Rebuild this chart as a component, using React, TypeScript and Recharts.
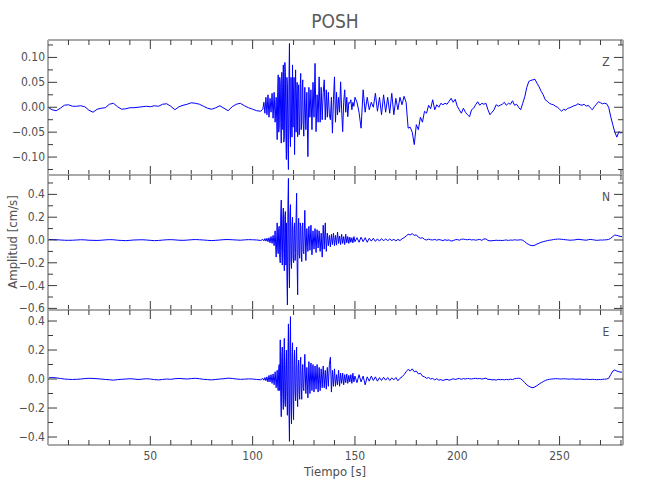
import { LineChart, Line, XAxis, YAxis } from 'recharts';

// sample times [s]
const TIME_PRE = [
  0, 2, 4, 6, 8, 10, 12, 14, 16, 18, 20, 22, 24, 26, 28, 30, 32, 34, 36, 38,
  40, 42, 44, 46, 48, 50, 52, 54, 56, 58, 60, 62, 64, 66, 68, 70, 72, 74, 76, 78,
  80, 82, 84, 86, 88, 90, 92, 94, 96, 98, 100, 102, 104,
];
const TIME_BURST = [
  105, 105.5, 106, 106.5, 107, 107.5, 108, 108.5, 109, 109.5,
  110, 110.5, 111, 111.5,
  112, 112.25, 112.5, 112.75, 113, 113.25, 113.5, 113.75,
  114, 114.25, 114.5, 114.75, 115, 115.25, 115.5, 115.75,
  116, 116.25, 116.5, 116.75, 117, 117.25, 117.5, 117.75,
  118, 118.25, 118.5, 118.75, 119, 119.25, 119.5, 119.75,
  120, 120.25, 120.5, 120.75, 121, 121.25, 121.5, 121.75,
  122, 122.25, 122.5, 122.75, 123, 123.25, 123.5, 123.75,
  124, 124.25, 124.5, 124.75,
  125, 125.5, 126, 126.5, 127, 127.5, 128, 128.5, 129, 129.5,
  130, 130.5, 131, 131.5, 132, 132.5, 133, 133.5, 134, 134.5,
  135, 135.5, 136, 136.5, 137, 137.5, 138, 138.5, 139, 139.5,
  140, 140.5, 141, 141.5, 142, 142.5, 143, 143.5, 144, 144.5,
  145, 145.5, 146, 146.5, 147, 147.5, 148, 148.5, 149, 149.5,
  150,
];
const TIME_POST = [
  151, 152, 153, 154, 155, 156, 157, 158, 159, 160,
  161, 162, 163, 164, 165, 166, 167, 168, 169, 170,
  171, 172, 173, 174, 175, 176, 177, 178, 179, 180,
  181, 182, 183, 184, 185, 186, 187, 188, 189, 190,
  191, 192, 193, 194, 195, 196, 197, 198, 199, 200,
  201, 202, 203, 204, 205, 206, 207, 208, 209, 210,
  211, 212, 213, 214, 215, 216, 217, 218, 219, 220,
  221, 222, 223, 224, 225, 226, 227, 228, 229, 230,
  231, 232, 233, 234, 235, 236, 237, 238, 239, 240,
  241, 242, 243, 244, 245, 246, 247, 248, 249, 250,
  251, 252, 253, 254, 255, 256, 257, 258, 259, 260,
  261, 262, 263, 264, 265, 266, 267, 268, 269, 270,
  271, 272, 273, 274, 275, 276, 277, 278, 279, 280,
  281,
];

// Z component [cm/s]
const Z_PRE = [
  0, -0.005, -0.007, -0.002, 0.004, 0.005, 0.002, 0.002, 0.003, 0.001,
  -0.006, -0.01, -0.004, -0.002, -0.001, 0.006, 0.008, 0.001, -0.004, -0.003,
  -0.001, -0.001, 0, 0.001, 0.002, 0.001, 0.003, 0.002, 0.006, 0.007,
  0.002, -0.005, 0.001, 0.004, 0.006, 0.009, 0.008, 0.006, 0.002, -0.002,
  -0.004, -0.001, 0.003, -0.002, -0.007, 0.001, 0.006, 0.008, 0.003, -0.001,
  -0.004, -0.007, -0.008,
];
const Z_BURST = [
  -0.004, 0.01, -0.012, 0.02, -0.015, 0.025, -0.02, 0.018, -0.01, 0.028,
  -0.022, 0.03, -0.03, 0.02,
  -0.065, 0.03, 0.065, -0.05, -0.04, 0.06, 0.05, -0.03,
  -0.072, 0.07, 0.04, -0.045, 0.085, -0.07, -0.06, 0.09,
  0.07, -0.05, -0.105, 0.06, 0.045, -0.08, -0.125, 0.05,
  0.128, -0.04, -0.079, 0.06, -0.03, -0.06, 0.085, -0.04,
  0.03, 0.06, -0.095, 0.02, 0.075, -0.05, 0.02, 0.05,
  -0.059, 0.03, 0.045, -0.055, -0.04, 0.04, 0.068, -0.045,
  -0.03, 0.04, 0.055, -0.035,
  -0.058, 0.04, -0.045, 0.03, -0.099, 0.04, -0.02, 0.035, -0.045, 0.05,
  -0.02, 0.088, -0.049, 0.025, -0.03, 0.061, -0.03, 0.04, -0.025, 0.03,
  0.055, -0.025, 0.035, -0.02, 0.03, -0.015, -0.025, 0.02, -0.052, 0.015,
  0.061, -0.03, 0.03, -0.015, 0.02, -0.01, 0.051, -0.005, -0.049, 0.01,
  0.035, -0.01, 0.02, -0.019, 0.01, 0.008, 0.015, -0.005, 0.01, 0.002,
  0.02,
];
const Z_POST = [
  0.01, -0.01, -0.042, 0.035, -0.01, 0.02, -0.005, 0.01, 0, 0.028,
  -0.008, 0.02, -0.015, 0.025, -0.01, 0.02, -0.012, 0.028, -0.015, 0.018,
  -0.005, 0.02, 0.005, 0.022, 0.01, -0.042, -0.04, -0.05, -0.075, -0.035,
  -0.045, -0.02, -0.03, -0.008, -0.012, 0.004, -0.003, 0.015, -0.005, 0.005,
  0, 0.008, 0.005, 0.008, 0.006, 0.012, 0.018, 0.01, 0.016, 0.002,
  -0.005, -0.012, -0.002, -0.01, -0.015, -0.019, -0.005, -0.002, 0.005, 0.011,
  0.004, 0.008, 0.006, 0.008, -0.005, -0.015, -0.01, -0.005, 0.005, 0.002,
  0.004, 0.006, 0.01, 0.004, 0.008, 0.006, 0.013, 0.004, 0.006, 0,
  -0.005, 0.008, 0.021, 0.04, 0.052, 0.054, 0.055, 0.056, 0.048, 0.041,
  0.032, 0.025, 0.015, 0.012, 0.008, 0.006, 0.005, 0.002, 0, -0.004,
  -0.008, -0.004, -0.006, -0.002, -0.001, 0.001, 0.003, 0.004, 0.007, 0.005,
  0.004, 0.006, 0.002, 0.004, -0.001, -0.005, 0.001, 0.006, 0.011, 0.009,
  0.007, 0.008, 0.007, 0, -0.019, -0.035, -0.05, -0.06, -0.049, -0.052,
  -0.049,
];

// N component [cm/s]
const N_PRE = [
  0.005, 0.004, 0.002, 0, -0.002, -0.003, -0.002, 0, 0.002, 0.001,
  -0.002, -0.003, -0.004, -0.002, 0.001, 0.003, 0.002, -0.002, -0.004, -0.006,
  -0.003, 0, 0.001, 0.002, 0, -0.003, -0.006, -0.004, -0.001, 0.002,
  0.003, 0.001, -0.002, -0.003, -0.001, 0.002, 0.004, 0.002, 0, -0.003,
  -0.005, -0.003, 0, 0.003, 0.004, 0.002, 0, -0.002, 0.001, 0.003,
  0.002, 0, -0.004,
];
const N_BURST = [
  0.005, -0.008, 0.012, -0.01, 0.015, -0.015, 0.02, -0.025, 0.03, -0.03,
  0.04, -0.05, 0.08, -0.15,
  0.15, -0.08, -0.12, 0.1, 0.12, -0.15, -0.2, 0.22,
  0.35, -0.1, -0.22, 0.18, 0.28, -0.12, -0.27, 0.2,
  0.25, -0.22, 0.15, -0.3, -0.57, 0.3, 0.54, -0.2,
  -0.42, 0.22, 0.31, -0.18, -0.25, 0.12, 0.2, -0.15,
  -0.2, 0.1, 0.15, -0.18, -0.12, 0.2, 0.41, -0.2,
  -0.48, 0.1, 0.19, -0.12, -0.16, 0.15, 0.12, -0.1,
  -0.19, 0.12, 0.15, -0.1,
  -0.12, 0.26, -0.18, 0.1, -0.1, 0.12, -0.09, 0.13, -0.13, 0.08,
  -0.08, 0.1, -0.11, 0.09, -0.07, 0.08, -0.1, 0.06, -0.15, 0.13,
  -0.08, 0.15, -0.1, 0.06, -0.05, 0.04, -0.06, 0.05, -0.04, 0.06,
  -0.05, 0.04, -0.045, 0.07, -0.03, 0.035, -0.04, 0.05, -0.03, 0.03,
  -0.04, 0.05, -0.025, 0.03, -0.03, 0.025, -0.02, 0.02, -0.025, 0.03,
  -0.015,
];
const N_POST = [
  0.02, -0.02, 0.025, -0.015, 0.02, -0.02, 0.015, -0.01, 0.015, -0.012,
  0.01, -0.01, 0.012, -0.008, 0.01, -0.006, 0.008, -0.005, 0.006, -0.008,
  0.005, -0.005, 0.01, 0.02, 0.035, 0.05, 0.045, 0.055, 0.04, 0.045,
  0.025, 0.015, 0.02, 0.005, 0, 0.008, 0.002, 0, 0.005, -0.002,
  0.004, 0, -0.005, 0.002, -0.003, 0.001, -0.01, -0.005, 0.002, 0.004,
  -0.002, 0.006, 0.008, 0.004, 0.002, 0.006, 0, 0.003, -0.002, 0.002,
  0.005, -0.003, 0.008, 0.01, -0.004, -0.008, -0.006, -0.005, -0.002, -0.004,
  -0.003, -0.005, -0.002, 0, -0.004, 0, -0.002, 0.002, -0.001, 0,
  0.002, -0.002, -0.015, -0.03, -0.04, -0.048, -0.05, -0.045, -0.035, -0.028,
  -0.02, -0.015, -0.01, -0.006, -0.002, 0, 0.004, 0.006, 0.008, 0.008,
  0.006, 0.004, 0.002, 0, -0.002, -0.001, 0, 0.003, 0.006, 0.004,
  0.002, 0, -0.002, 0.002, 0.005, 0.003, 0, -0.003, -0.002, 0,
  -0.001, 0.001, 0.002, 0.005, 0.015, 0.03, 0.044, 0.04, 0.035, 0.03,
  0.03,
];

// E component [cm/s]
const E_PRE = [
  0.008, 0.01, 0.008, 0.004, 0, -0.002, -0.003, -0.002, 0, 0.003,
  0.005, 0.004, 0.002, 0, -0.003, -0.005, -0.008, -0.004, -0.002, 0,
  0.002, 0, -0.003, -0.001, 0.002, 0, -0.004, -0.006, -0.003, 0,
  -0.002, 0.002, 0.004, 0.002, 0, 0.003, 0.005, 0.002, -0.002, -0.004,
  -0.006, -0.003, 0, 0.002, 0.006, 0.004, 0, -0.002, -0.001, 0.001,
  0, -0.003, -0.005,
];
const E_BURST = [
  0.004, -0.008, 0.01, -0.012, 0.015, -0.02, 0.025, -0.02, 0.03, -0.03,
  0.035, -0.04, 0.05, -0.06,
  0.06, -0.05, -0.08, 0.07, 0.1, -0.08, 0.27, -0.12,
  -0.26, 0.15, 0.22, -0.1, -0.21, 0.12, 0.28, -0.15,
  -0.19, 0.1, 0.2, -0.12, -0.25, 0.15, 0.38, -0.2,
  -0.43, 0.22, 0.43, -0.18, -0.31, 0.15, 0.25, -0.12,
  -0.28, 0.1, 0.2, -0.08, -0.15, 0.1, 0.22, -0.1,
  -0.19, 0.08, 0.13, -0.09, -0.14, 0.1, 0.15, -0.06,
  -0.14, 0.05, 0.1, -0.06,
  -0.08, 0.17, -0.1, 0.08, -0.13, 0.12, -0.1, 0.11, -0.08, 0.1,
  -0.09, 0.09, -0.07, 0.1, -0.09, 0.08, -0.08, 0.07, -0.06, 0.09,
  -0.06, 0.06, -0.07, 0.08, -0.05, 0.1, 0.15, -0.09, 0.06, -0.05,
  0.07, -0.05, 0.03, -0.04, 0.06, -0.05, 0.04, -0.03, 0.04, -0.04,
  0.03, -0.025, 0.035, -0.03, 0.025, -0.02, 0.03, -0.03, 0.04, -0.02,
  0.02,
];
const E_POST = [
  -0.025, 0.03, -0.02, 0.02, -0.04, 0.015, -0.015, 0.02, -0.01, 0.015,
  -0.015, 0.01, -0.01, 0.012, -0.008, 0.01, -0.01, 0.008, -0.006, 0.01,
  -0.012, 0.005, 0.015, 0.03, 0.05, 0.067, 0.055, 0.07, 0.05, 0.055,
  0.035, 0.04, 0.02, 0.015, 0.005, 0.01, 0, 0.004, -0.006, 0.002,
  -0.008, -0.004, -0.01, -0.005, -0.002, -0.008, -0.004, 0.002, -0.003, 0.001,
  0.004, -0.002, 0.003, 0, 0.004, 0.002, 0, 0.003, 0.005, 0.002,
  0.004, 0, 0.003, 0.006, -0.003, -0.002, -0.006, -0.004, -0.008, -0.002,
  -0.005, -0.003, -0.006, -0.002, -0.005, -0.001, -0.004, 0.002, 0.004, 0.006,
  0.002, -0.01, -0.025, -0.04, -0.05, -0.057, -0.06, -0.054, -0.045, -0.035,
  -0.026, -0.018, -0.01, -0.005, -0.002, 0, 0.001, 0.002, 0.002, 0.001,
  0, 0.002, 0.001, 0, -0.001, 0.001, 0, -0.002, -0.001, 0,
  -0.002, -0.003, -0.001, -0.002, -0.004, -0.002, -0.003, -0.005, -0.003, -0.004,
  -0.002, -0.001, 0, 0.005, 0.03, 0.055, 0.062, 0.055, 0.05, 0.048,
  0.045,
];

const X_TICKS = [10, 20, 30, 40, 50, 60, 70, 80, 90, 100, 110, 120, 130, 140, 150, 160, 170, 180, 190, 200, 210, 220, 230, 240, 250, 260, 270, 280];
const X_LABELS = [50, 100, 150, 200, 250];

const Z_TICKS = [-0.125, -0.1, -0.075, -0.05, -0.025, 0, 0.025, 0.05, 0.075, 0.1, 0.125];
const Z_LABELS = [-0.1, -0.05, 0, 0.05, 0.1];
const N_TICKS = [-0.6, -0.5, -0.4, -0.3, -0.2, -0.1, 0, 0.1, 0.2, 0.3, 0.4, 0.5];
const N_LABELS = [-0.6, -0.4, -0.2, 0, 0.2, 0.4];
const E_TICKS = [-0.4, -0.3, -0.2, -0.1, 0, 0.1, 0.2, 0.3, 0.4];
const E_LABELS = [-0.4, -0.2, 0, 0.2, 0.4];

const TIME = [...TIME_PRE, ...TIME_BURST, ...TIME_POST];
const Z = [...Z_PRE, ...Z_BURST, ...Z_POST];
const N = [...N_PRE, ...N_BURST, ...N_POST];
const E = [...E_PRE, ...E_BURST, ...E_POST];
const rows = TIME.map((t, i) => ({ t, z: Z[i], n: N[i], e: E[i] }));

const FONT = "'DejaVu Sans Condensed', 'DejaVu Sans', sans-serif";
const TEXT = '#505050';
const FRAME = '#a9a9a9';
const TICK = '#3a3a3a';
const BLUE = '#0000ff';

const LEFT = 48;
const RIGHT = 27;
const PANEL_H = 135;
const PAD = 10;
const AX = 1; // thickness reserved for each axis box

const has = (list: number[], v: number) => list.some(l => Math.abs(l - v) < 1e-9);
const fmt = (v: number, d: number) => {
  const s = Math.abs(v).toFixed(d);
  return v < -1e-9 ? '\u2212' + s : s;
};

function XTick(props: any) {
  const { x, y, payload, side, showLabel } = props;
  const major = has(X_LABELS, payload.value);
  const len = major ? 9 : 5;
  const dir = side === 'top' ? 1 : -1;
  return (
    <g>
      <line x1={x} y1={y} x2={x} y2={y + dir * len} stroke={TICK} strokeWidth={1} />
      {showLabel && major && (
        <text x={x} y={y + 15} textAnchor="middle" fontSize={12} fill={TEXT} fontFamily={FONT}>
          {payload.value}
        </text>
      )}
    </g>
  );
}

function YTick(props: any) {
  const { x, y, payload, side, labels, digits } = props;
  const major = has(labels, payload.value);
  const len = major ? 9 : 5;
  const dir = side === 'left' ? 1 : -1;
  return (
    <g>
      <line x1={x} y1={y} x2={x + dir * len} y2={y} stroke={TICK} strokeWidth={1} />
      {side === 'left' && major && (
        <text x={x - 3} y={y + 4} textAnchor="end" fontSize={12} fill={TEXT} fontFamily={FONT}>
          {fmt(payload.value, digits)}
        </text>
      )}
    </g>
  );
}

interface PanelProps {
  top: number;
  dataKey: string;
  domain: [number, number];
  ticks: number[];
  labels: number[];
  digits: number;
  bottomLabels?: boolean;
}

function Panel({ top, dataKey, domain, ticks, labels, digits, bottomLabels }: PanelProps) {
  const bottom = bottomLabels ? 30 : PAD;
  const axisLine = { stroke: FRAME, strokeWidth: 2 };
  return (
    <div style={{ position: 'absolute', left: 0, top: top - PAD }}>
      <LineChart width={650} height={PANEL_H + PAD + bottom} data={rows}
        margin={{ top: PAD - AX, right: RIGHT - AX, bottom: bottom - AX, left: LEFT - AX }}>
        <XAxis xAxisId="b" dataKey="t" type="number" domain={[0, 281]} allowDataOverflow
          ticks={X_TICKS} interval={0} height={AX} tickSize={0} tickMargin={0}
          axisLine={axisLine}
          tick={(p: any) => <XTick {...p} side="bottom" showLabel={bottomLabels} />} />
        <XAxis xAxisId="t" orientation="top" dataKey="t" type="number" domain={[0, 281]} allowDataOverflow
          ticks={X_TICKS} interval={0} height={AX} tickSize={0} tickMargin={0}
          axisLine={axisLine}
          tick={(p: any) => <XTick {...p} side="top" />} />
        <YAxis yAxisId="l" type="number" domain={domain} allowDataOverflow
          ticks={ticks} interval={0} width={AX} tickSize={0} tickMargin={0}
          axisLine={axisLine}
          tick={(p: any) => <YTick {...p} side="left" labels={labels} digits={digits} />} />
        <YAxis yAxisId="r" orientation="right" type="number" domain={domain} allowDataOverflow
          ticks={ticks} interval={0} width={AX} tickSize={0} tickMargin={0}
          axisLine={axisLine}
          tick={(p: any) => <YTick {...p} side="right" labels={labels} digits={digits} />} />
        <Line xAxisId="b" yAxisId="l" dataKey={dataKey} type="linear" stroke={BLUE} strokeWidth={1}
          dot={false} activeDot={false} isAnimationActive={false} />
        <Line xAxisId="t" yAxisId="r" dataKey={dataKey} type="linear" stroke="none"
          dot={false} activeDot={false} isAnimationActive={false} />
      </LineChart>
    </div>
  );
}

export default function App() {
  return (
    <div style={{ position: 'absolute', left: 0, top: 0, width: 650, height: 500, background: '#fff' }}>
      <Panel top={40} dataKey="z" domain={[-0.136, 0.135]} ticks={Z_TICKS} labels={Z_LABELS} digits={2} />
      <Panel top={175} dataKey="n" domain={[-0.614, 0.57]} ticks={N_TICKS} labels={N_LABELS} digits={1} />
      <Panel top={310} dataKey="e" domain={[-0.455, 0.476]} ticks={E_TICKS} labels={E_LABELS} digits={1} bottomLabels />
      <svg width={650} height={500} style={{ position: 'absolute', left: 0, top: 0, pointerEvents: 'none' }}
        fontFamily={FONT}>
        <text x={335} y={28} textAnchor="middle" fontSize={19} fill="#5a5a5a">POSH</text>
        <text x={606} y={66} textAnchor="middle" fontSize={12} fill={TEXT}>Z</text>
        <text x={606} y={201} textAnchor="middle" fontSize={12} fill={TEXT}>N</text>
        <text x={606} y={336} textAnchor="middle" fontSize={12} fill={TEXT}>E</text>
        <text x={335} y={476} textAnchor="middle" fontSize={13} fill={TEXT}>Tiempo  [s]</text>
        <text x={17} y={242} textAnchor="middle" fontSize={13} fill={TEXT} transform="rotate(-90 17 242)">
          Amplitud  [cm/s]
        </text>
      </svg>
    </div>
  );
}
